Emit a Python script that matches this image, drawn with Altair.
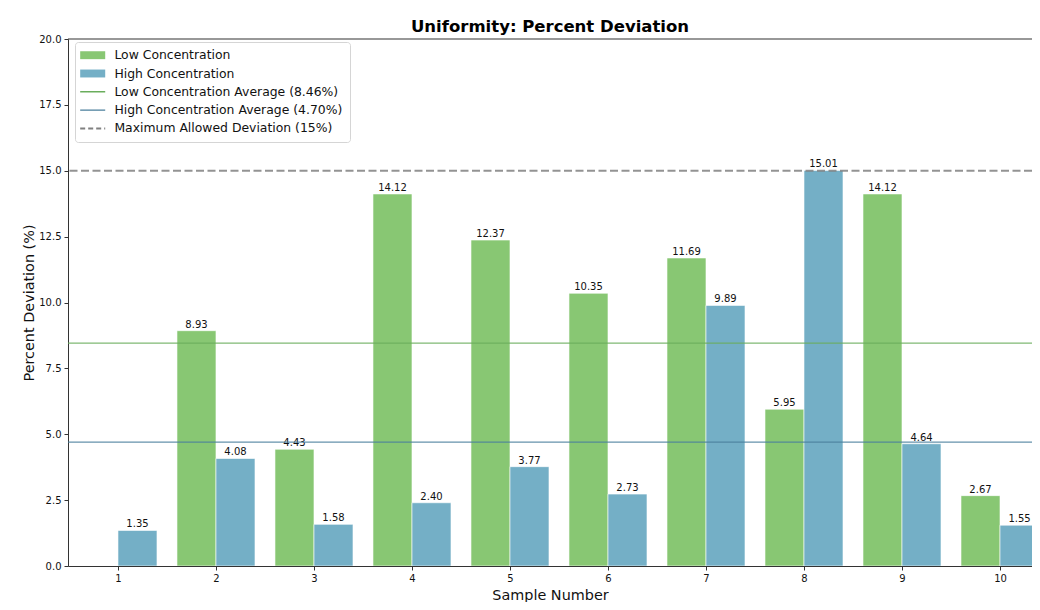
import altair as alt
import pandas as pd

samples = [1, 2, 3, 4, 5, 6, 7, 8, 9, 10]
low_values = [0.0, 8.93, 4.43, 14.12, 12.37, 10.35, 11.69, 5.95, 14.12, 2.67]
high_values = [1.35, 4.08, 1.58, 2.40, 3.77, 2.73, 9.89, 15.01, 4.64, 1.55]
low_avg = 8.46
high_avg = 4.70
max_allowed = 15.0
y_max = 20.0

LOW = "Low Concentration"
HIGH = "High Concentration"
LOW_AVG = "Low Concentration Average (8.46%)"
HIGH_AVG = "High Concentration Average (4.70%)"
MAX_LBL = "Maximum Allowed Deviation (15%)"

series_domain = [LOW, HIGH, LOW_AVG, HIGH_AVG, MAX_LBL]
series_colors = ["#88c773", "#74afc6", "#6aad5c", "#4a7f9c", "#808080"]

BW = 0.398
rows = []
for s, lv, hv in zip(samples, low_values, high_values):
    rows.append({"sample": s, "value": lv, "series": LOW, "x0": s - BW, "x1": s,
                 "xc": s - BW / 2, "label": f"{lv:.2f}" if lv > 0 else ""})
    rows.append({"sample": s, "value": hv, "series": HIGH, "x0": s, "x1": s + BW,
                 "xc": s + BW / 2, "label": f"{hv:.2f}" if hv > 0 else ""})
bars_df = pd.DataFrame(rows)

lines_df = pd.DataFrame({
    "y": [low_avg, high_avg, max_allowed],
    "series": [LOW_AVG, HIGH_AVG, MAX_LBL],
    "dash": ["solid", "solid", "dashed"],
})

FONT = "DejaVu Sans"
xscale = alt.Scale(domain=[0.49, 10.3265], nice=False, zero=False)
yscale = alt.Scale(domain=[0, y_max], nice=False)

is_line = "indexof(['%s','%s','%s'], datum.value) >= 0" % (LOW_AVG, HIGH_AVG, MAX_LBL)
is_dash = "datum.value === '%s'" % MAX_LBL
color_map = "{" + ",".join("'%s':'%s'" % (d, c) for d, c in zip(series_domain, series_colors)) + "}"

legend = alt.Legend(
    title=None,
    orient="none",
    legendX=7,
    legendY=3,
    padding=7,
    rowPadding=5.3,
    symbolSize=324,
    labelOffset=20,
    labelLimit=400,
    labelFont=FONT,
    labelFontSize=12.4,
    labelColor="#111111",
    strokeColor="#d5d5d5",
    fillColor="white",
    cornerRadius=3,
    symbolType={"expr": is_line + " ? 'M-0.89,0H1.89' : 'M-0.89,-0.44H1.89V0.44H-0.89Z'"},
    symbolFillColor={"expr": is_line + " ? 'transparent' : " + color_map + "[datum.value]"},
    symbolStrokeColor={"expr": color_map + "[datum.value]"},
    symbolStrokeWidth={"expr": is_dash + " ? 2 : (" + is_line + " ? 1.4 : 0)"},
    symbolDash={"expr": is_dash + " ? [5, 3] : [1, 0]"},
    symbolOpacity=1,
)

color_enc = alt.Color("series:N", scale=alt.Scale(domain=series_domain, range=series_colors),
                      legend=legend)

x_axis = alt.Axis(values=samples, format="d", title="Sample Number", grid=False,
                  labelFont=FONT, labelFontSize=10, titleFont=FONT, titleFontSize=14.4,
                  titleFontWeight="normal", labelColor="#111", titleColor="#111",
                  tickColor="#333", domainColor="#333", tickSize=4, labelPadding=3,
                  titlePadding=5)
y_axis = alt.Axis(values=[0, 2.5, 5, 7.5, 10, 12.5, 15, 17.5, 20], format=".1f",
                  title="Percent Deviation (%)", grid=False,
                  labelFont=FONT, labelFontSize=10, titleFont=FONT, titleFontSize=14.4,
                  titleFontWeight="normal", labelColor="#111", titleColor="#111",
                  tickColor="#333", domainColor="#333", tickSize=4, labelPadding=3,
                  titlePadding=2)

bars = alt.Chart(bars_df).mark_bar(stroke="white", strokeWidth=0.6, clip=True).encode(
    x=alt.X("x0:Q", scale=xscale, axis=x_axis),
    x2="x1:Q",
    y=alt.Y("value:Q", scale=yscale, axis=y_axis),
    y2=alt.datum(0),
    color=color_enc,
)

labels = alt.Chart(bars_df).mark_text(
    baseline="bottom", dy=-1, font=FONT, fontSize=10, color="#111"
).encode(
    x=alt.X("xc:Q", scale=xscale),
    y=alt.Y("value:Q", scale=yscale),
    text="label:N",
)

rules = alt.Chart(lines_df).mark_rule(opacity=0.85).encode(
    y=alt.Y("y:Q", scale=yscale),
    color=color_enc,
    strokeDash=alt.StrokeDash("dash:N", scale=alt.Scale(domain=["solid", "dashed"],
                                                         range=[[1, 0], [8, 3.5]]),
                              legend=None),
    strokeWidth=alt.StrokeWidth("dash:N", scale=alt.Scale(domain=["solid", "dashed"],
                                                           range=[1.3, 2]),
                                legend=None),
)

top_spine = alt.Chart(pd.DataFrame({"y": [y_max]})).mark_rule(
    color="#333", strokeWidth=1.2
).encode(y=alt.Y("y:Q", scale=yscale))

chart = alt.layer(bars, labels, rules, top_spine).properties(
    width=964,
    height=527,
    title=alt.Title("Uniformity: Percent Deviation", font=FONT, fontSize=16.5,
                    fontWeight="bold", color="#000", anchor="middle", offset=-1),
    autosize=alt.AutoSizeParams(type="none"),
    padding={"left": 60, "top": 31, "right": 0, "bottom": 36},
).configure(background="white").configure_view(stroke=None)

chart.save("out.html", embed_options={"renderer": "svg", "actions": False})
